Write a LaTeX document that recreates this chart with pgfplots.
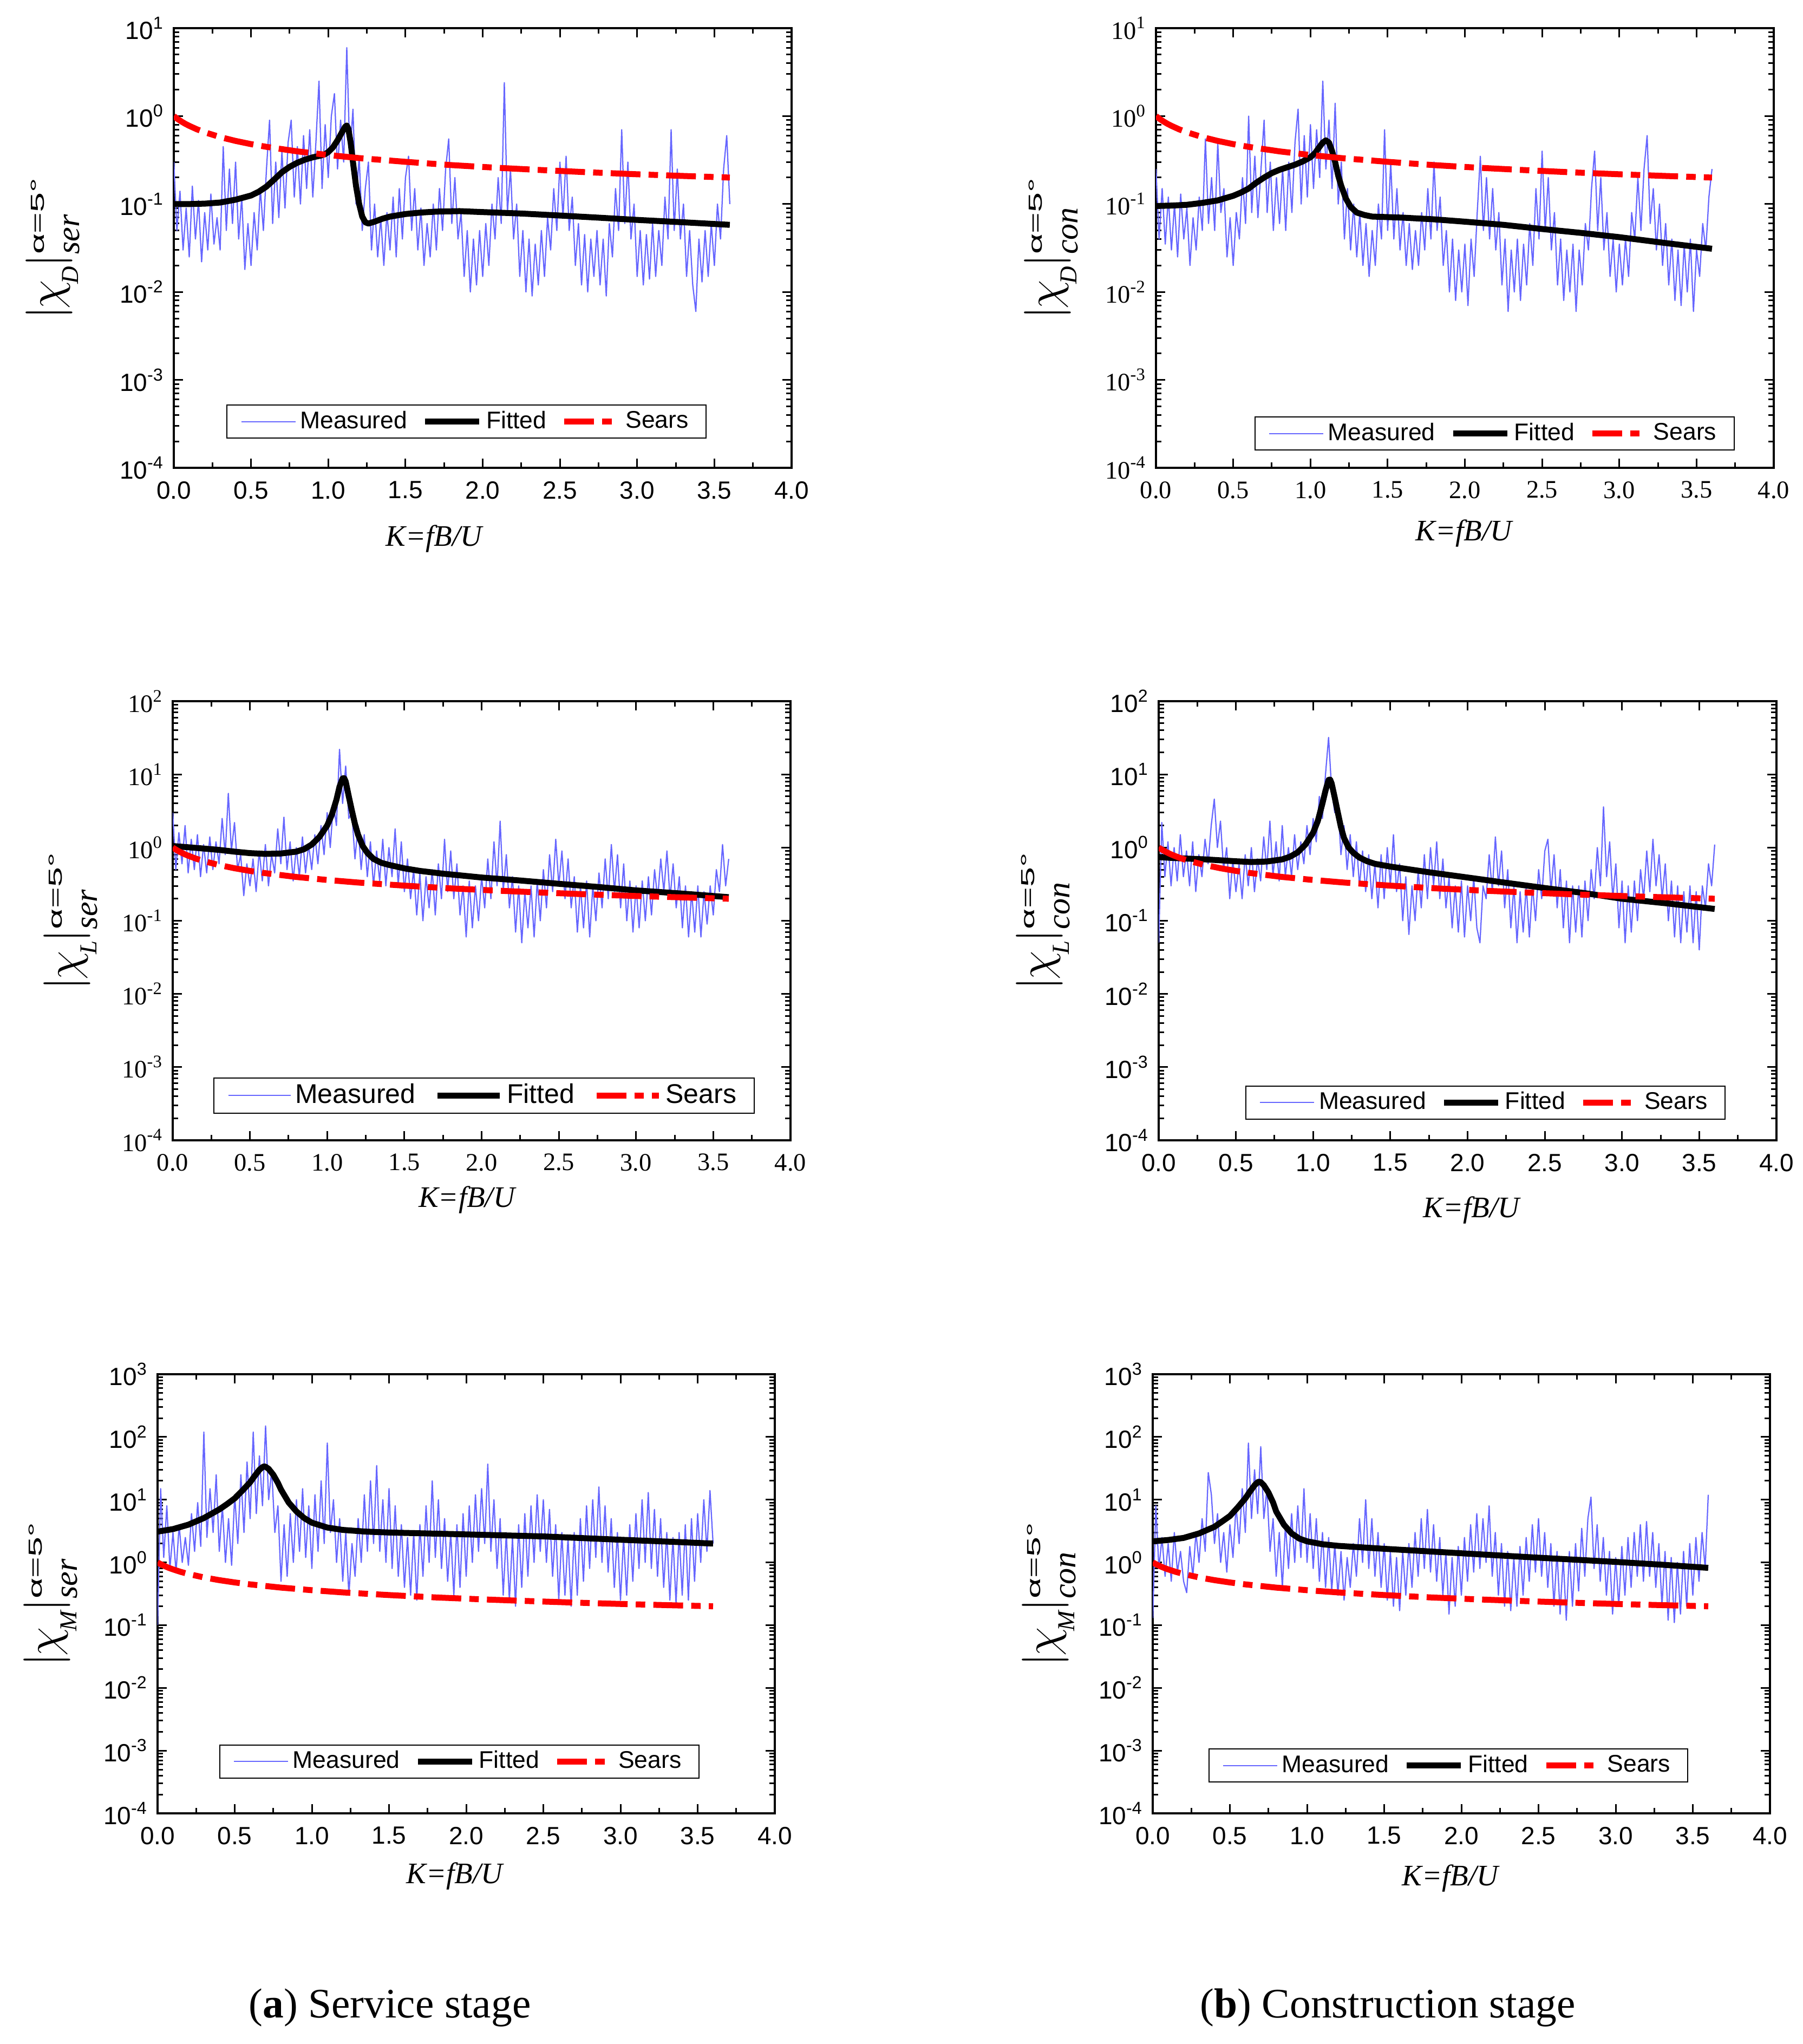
\documentclass[border=0pt]{standalone}
\usepackage{fontspec}
\usepackage{amsmath}
\usepackage{graphicx}
\usepackage{pgfplots}
\usepackage{pgfplotstable}
\pgfplotsset{compat=1.18}
\setmainfont{Liberation Sans}
\newfontfamily\timesf{Liberation Serif}
\newfontfamily\arialf{Liberation Sans}
\definecolor{meas}{RGB}{102,102,255}

\tikzset{
  measst/.style={color=meas, line width=0.45pt, line join=round},
  fitst/.style={black, line width=2.2pt, line join=round},
  searsst/.style={red, line width=2.2pt, dash pattern=on 11pt off 3pt on 3.5pt off 3pt},
}
\pgfplotsset{legend image code/.code={\draw[#1] (0pt,0pt) -- (20pt,0pt);}}

% Sears function (common to all panels)
\pgfplotstableread{
x y
0 1
0.025 0.926
0.05 0.866
0.075 0.816
0.1 0.775
0.15 0.707
0.2 0.655
0.3 0.577
0.4 0.522
0.5 0.480
0.6 0.447
0.8 0.397
1.0 0.361
1.2 0.333
1.5 0.302
1.8 0.277
2.1 0.258
2.4 0.2425
2.7 0.229
3.0 0.218
3.3 0.2085
3.6 0.200
}\sears

% ---------- Drag, service ----------
\pgfplotstableread[row sep=\\]{x y\\
0.00 0.30\\ 0.02 0.05\\ 0.04 0.14\\ 0.06 0.03\\ 0.08 0.09\\ 0.10 0.025\\ 0.12 0.16\\ 0.14 0.04\\ 0.16 0.11\\ 0.18 0.022\\
0.20 0.08\\ 0.22 0.03\\ 0.24 0.13\\ 0.26 0.035\\ 0.28 0.07\\ 0.30 0.03\\ 0.32 0.45\\ 0.34 0.05\\ 0.36 0.25\\ 0.38 0.06\\
0.40 0.3\\ 0.42 0.04\\ 0.44 0.12\\ 0.46 0.018\\ 0.48 0.06\\ 0.50 0.02\\ 0.52 0.08\\ 0.54 0.03\\ 0.56 0.15\\ 0.58 0.05\\
0.60 0.25\\ 0.62 0.9\\ 0.64 0.06\\ 0.66 0.3\\ 0.68 0.07\\ 0.70 0.4\\ 0.72 0.09\\ 0.74 0.5\\ 0.76 0.9\\ 0.78 0.12\\
0.80 0.45\\ 0.82 0.1\\ 0.84 0.6\\ 0.86 0.15\\ 0.88 0.7\\ 0.90 0.12\\ 0.92 0.5\\ 0.94 2.5\\ 0.96 0.15\\ 0.98 0.8\\
1.00 0.2\\ 1.02 1.0\\ 1.04 1.8\\ 1.06 0.25\\ 1.08 0.9\\ 1.10 0.3\\ 1.12 6.0\\ 1.14 0.35\\ 1.16 1.2\\ 1.18 0.1\\
1.20 0.35\\ 1.22 0.05\\ 1.24 0.15\\ 1.26 0.3\\ 1.28 0.03\\ 1.30 0.1\\ 1.32 0.025\\ 1.34 0.07\\ 1.36 0.02\\ 1.38 0.08\\
1.40 0.03\\ 1.42 0.12\\ 1.44 0.025\\ 1.46 0.15\\ 1.48 0.04\\ 1.50 0.2\\ 1.52 0.35\\ 1.54 0.05\\ 1.56 0.15\\ 1.58 0.03\\
1.60 0.09\\ 1.62 0.02\\ 1.64 0.06\\ 1.66 0.025\\ 1.68 0.1\\ 1.70 0.03\\ 1.72 0.15\\ 1.74 0.05\\ 1.76 0.25\\ 1.78 0.55\\
1.80 0.06\\ 1.82 0.2\\ 1.84 0.04\\ 1.86 0.08\\ 1.88 0.015\\ 1.90 0.05\\ 1.92 0.01\\ 1.94 0.04\\ 1.96 0.012\\ 1.98 0.05\\
2.00 0.015\\ 2.02 0.06\\ 2.04 0.02\\ 2.06 0.1\\ 2.08 0.04\\ 2.10 0.2\\ 2.12 0.06\\ 2.14 2.4\\ 2.16 0.08\\ 2.18 0.25\\
2.20 0.04\\ 2.22 0.1\\ 2.24 0.015\\ 2.26 0.05\\ 2.28 0.01\\ 2.30 0.04\\ 2.32 0.009\\ 2.34 0.035\\ 2.36 0.012\\ 2.38 0.05\\
2.40 0.015\\ 2.42 0.07\\ 2.44 0.03\\ 2.46 0.15\\ 2.48 0.05\\ 2.50 0.3\\ 2.52 0.07\\ 2.54 0.35\\ 2.56 0.05\\ 2.58 0.12\\
2.60 0.02\\ 2.62 0.06\\ 2.64 0.012\\ 2.66 0.045\\ 2.68 0.01\\ 2.70 0.04\\ 2.72 0.015\\ 2.74 0.05\\ 2.76 0.012\\ 2.78 0.04\\
2.80 0.009\\ 2.82 0.06\\ 2.84 0.025\\ 2.86 0.15\\ 2.88 0.05\\ 2.90 0.7\\ 2.92 0.06\\ 2.94 0.3\\ 2.96 0.04\\ 2.98 0.1\\
3.00 0.015\\ 3.02 0.05\\ 3.04 0.012\\ 3.06 0.045\\ 3.08 0.014\\ 3.10 0.06\\ 3.12 0.015\\ 3.14 0.05\\ 3.16 0.02\\ 3.18 0.12\\
3.20 0.04\\ 3.22 0.7\\ 3.24 0.05\\ 3.26 0.25\\ 3.28 0.04\\ 3.30 0.1\\ 3.32 0.015\\ 3.34 0.05\\ 3.36 0.012\\ 3.38 0.006\\
3.40 0.04\\ 3.42 0.013\\ 3.44 0.05\\ 3.46 0.015\\ 3.48 0.06\\ 3.50 0.02\\ 3.52 0.1\\ 3.54 0.04\\ 3.56 0.25\\ 3.58 0.6\\
3.60 0.1\\
}\DSm
\pgfplotstableread[row sep=\\]{x y\\
0 0.100\\ 0.1 0.100\\ 0.2 0.101\\ 0.3 0.104\\ 0.4 0.112\\ 0.5 0.125\\ 0.55 0.138\\ 0.6 0.158\\ 0.65 0.19\\ 0.7 0.23\\
0.75 0.265\\ 0.8 0.295\\ 0.85 0.32\\ 0.9 0.34\\ 0.95 0.355\\ 0.98 0.37\\ 1.0 0.39\\ 1.03 0.44\\ 1.06 0.53\\ 1.09 0.66\\
1.11 0.76\\ 1.12 0.78\\ 1.13 0.72\\ 1.145 0.5\\ 1.16 0.3\\ 1.18 0.16\\ 1.2 0.1\\ 1.22 0.072\\ 1.24 0.062\\ 1.26 0.06\\
1.3 0.063\\ 1.35 0.068\\ 1.4 0.072\\ 1.5 0.077\\ 1.6 0.08\\ 1.7 0.082\\ 1.85 0.083\\ 2.0 0.081\\ 2.25 0.078\\ 2.5 0.074\\
2.75 0.07\\ 3.0 0.066\\ 3.3 0.062\\ 3.6 0.058\\
}\DSf

% ---------- Drag, construction ----------
\pgfplotstableread[row sep=\\]{x y\\
0.00 0.25\\ 0.02 0.04\\ 0.04 0.15\\ 0.06 0.035\\ 0.08 0.12\\ 0.10 0.03\\ 0.12 0.1\\ 0.14 0.025\\ 0.16 0.13\\ 0.18 0.04\\
0.20 0.09\\ 0.22 0.02\\ 0.24 0.07\\ 0.26 0.03\\ 0.28 0.12\\ 0.30 0.05\\ 0.32 0.55\\ 0.34 0.06\\ 0.36 0.2\\ 0.38 0.05\\
0.40 0.5\\ 0.42 0.08\\ 0.44 0.15\\ 0.46 0.025\\ 0.48 0.07\\ 0.50 0.02\\ 0.52 0.08\\ 0.54 0.04\\ 0.56 0.2\\ 0.58 0.06\\
0.60 1.0\\ 0.62 0.08\\ 0.64 0.35\\ 0.66 0.07\\ 0.68 0.25\\ 0.70 0.9\\ 0.72 0.08\\ 0.74 0.3\\ 0.76 0.05\\ 0.78 0.2\\
0.80 0.06\\ 0.82 0.25\\ 0.84 0.05\\ 0.86 0.3\\ 0.88 0.08\\ 0.90 0.5\\ 0.92 1.2\\ 0.94 0.1\\ 0.96 0.6\\ 0.98 0.12\\
1.00 0.8\\ 1.02 0.15\\ 1.04 0.7\\ 1.06 0.2\\ 1.08 2.5\\ 1.10 0.25\\ 1.12 0.9\\ 1.14 0.15\\ 1.16 1.4\\ 1.18 0.1\\
1.20 0.3\\ 1.22 0.04\\ 1.24 0.15\\ 1.26 0.03\\ 1.28 0.1\\ 1.30 0.025\\ 1.32 0.08\\ 1.34 0.02\\ 1.36 0.06\\ 1.38 0.015\\
1.40 0.05\\ 1.42 0.02\\ 1.44 0.1\\ 1.46 0.04\\ 1.48 0.7\\ 1.50 0.05\\ 1.52 0.3\\ 1.54 0.04\\ 1.56 0.15\\ 1.58 0.03\\
1.60 0.08\\ 1.62 0.02\\ 1.64 0.06\\ 1.66 0.018\\ 1.68 0.05\\ 1.70 0.02\\ 1.72 0.08\\ 1.74 0.03\\ 1.76 0.15\\ 1.78 0.04\\
1.80 0.3\\ 1.82 0.05\\ 1.84 0.12\\ 1.86 0.02\\ 1.88 0.05\\ 1.90 0.01\\ 1.92 0.04\\ 1.94 0.008\\ 1.96 0.03\\ 1.98 0.01\\
2.00 0.035\\ 2.02 0.007\\ 2.04 0.04\\ 2.06 0.015\\ 2.08 0.08\\ 2.10 0.35\\ 2.12 0.05\\ 2.14 0.2\\ 2.16 0.04\\ 2.18 0.15\\
2.20 0.03\\ 2.22 0.08\\ 2.24 0.012\\ 2.26 0.04\\ 2.28 0.006\\ 2.30 0.03\\ 2.32 0.01\\ 2.34 0.04\\ 2.36 0.008\\ 2.38 0.035\\
2.40 0.012\\ 2.42 0.06\\ 2.44 0.02\\ 2.46 0.15\\ 2.48 0.04\\ 2.50 0.4\\ 2.52 0.05\\ 2.54 0.2\\ 2.56 0.03\\ 2.58 0.08\\
2.60 0.012\\ 2.62 0.04\\ 2.64 0.008\\ 2.66 0.03\\ 2.68 0.01\\ 2.70 0.035\\ 2.72 0.006\\ 2.74 0.03\\ 2.76 0.012\\ 2.78 0.06\\
2.80 0.03\\ 2.82 0.15\\ 2.84 0.4\\ 2.86 0.05\\ 2.88 0.2\\ 2.90 0.03\\ 2.92 0.08\\ 2.94 0.015\\ 2.96 0.04\\ 2.98 0.01\\
3.00 0.035\\ 3.02 0.012\\ 3.04 0.04\\ 3.06 0.015\\ 3.08 0.08\\ 3.10 0.04\\ 3.12 0.2\\ 3.14 0.05\\ 3.16 0.25\\ 3.18 0.6\\
3.20 0.06\\ 3.22 0.15\\ 3.24 0.03\\ 3.26 0.1\\ 3.28 0.02\\ 3.30 0.06\\ 3.32 0.012\\ 3.34 0.04\\ 3.36 0.008\\ 3.38 0.03\\
3.40 0.007\\ 3.42 0.035\\ 3.44 0.01\\ 3.46 0.04\\ 3.48 0.006\\ 3.50 0.03\\ 3.52 0.015\\ 3.54 0.06\\ 3.56 0.03\\ 3.58 0.12\\
3.60 0.25\\
}\DCm
\pgfplotstableread[row sep=\\]{x y\\
0 0.095\\ 0.1 0.096\\ 0.2 0.098\\ 0.3 0.103\\ 0.4 0.11\\ 0.5 0.124\\ 0.55 0.135\\ 0.6 0.15\\ 0.65 0.175\\ 0.7 0.2\\
0.75 0.225\\ 0.8 0.245\\ 0.85 0.262\\ 0.9 0.28\\ 0.95 0.305\\ 1.0 0.34\\ 1.03 0.38\\ 1.06 0.45\\ 1.08 0.5\\ 1.1 0.53\\
1.12 0.5\\ 1.14 0.4\\ 1.16 0.3\\ 1.18 0.21\\ 1.2 0.16\\ 1.23 0.115\\ 1.26 0.093\\ 1.3 0.08\\ 1.35 0.075\\ 1.4 0.072\\
1.5 0.071\\ 1.6 0.07\\ 1.8 0.067\\ 2.0 0.063\\ 2.25 0.058\\ 2.5 0.052\\ 2.75 0.047\\ 3.0 0.042\\ 3.3 0.036\\ 3.6 0.031\\
}\DCf

% ---------- Lift, service ----------
\pgfplotstableread[row sep=\\]{x y\\
0.00 3.0\\ 0.02 0.5\\ 0.04 1.6\\ 0.06 0.6\\ 0.08 2.0\\ 0.10 0.45\\ 0.12 1.3\\ 0.14 0.5\\ 0.16 1.5\\ 0.18 0.4\\
0.20 1.1\\ 0.22 0.45\\ 0.24 1.4\\ 0.26 0.5\\ 0.28 1.2\\ 0.30 0.6\\ 0.32 2.5\\ 0.34 0.8\\ 0.36 5.5\\ 0.38 0.9\\
0.40 2.2\\ 0.42 0.5\\ 0.44 0.8\\ 0.46 0.22\\ 0.48 0.6\\ 0.50 0.3\\ 0.52 0.7\\ 0.54 0.25\\ 0.56 0.9\\ 0.58 0.35\\
0.60 1.1\\ 0.62 0.3\\ 0.64 0.8\\ 0.66 0.45\\ 0.68 1.8\\ 0.70 0.6\\ 0.72 2.6\\ 0.74 0.5\\ 0.76 1.2\\ 0.78 0.35\\
0.80 1.0\\ 0.82 0.4\\ 0.84 1.4\\ 0.86 0.45\\ 0.88 1.1\\ 0.90 0.5\\ 0.92 1.5\\ 0.94 0.6\\ 0.96 2.0\\ 0.98 0.8\\
1.00 3.0\\ 1.02 1.0\\ 1.04 4.0\\ 1.06 2.0\\ 1.08 22\\ 1.10 4.0\\ 1.12 13\\ 1.14 2.5\\ 1.16 3.0\\ 1.18 0.7\\
1.20 2.0\\ 1.22 0.5\\ 1.24 1.5\\ 1.26 0.4\\ 1.28 1.2\\ 1.30 0.3\\ 1.32 0.9\\ 1.34 0.35\\ 1.36 1.3\\ 1.38 0.3\\
1.40 1.0\\ 1.42 0.4\\ 1.44 1.8\\ 1.46 0.3\\ 1.48 1.2\\ 1.50 0.25\\ 1.52 0.7\\ 1.54 0.2\\ 1.56 0.5\\ 1.58 0.12\\
1.60 0.45\\ 1.62 0.1\\ 1.64 0.4\\ 1.66 0.15\\ 1.68 0.5\\ 1.70 0.12\\ 1.72 0.6\\ 1.74 0.2\\ 1.76 1.3\\ 1.78 0.25\\
1.80 0.9\\ 1.82 0.2\\ 1.84 0.6\\ 1.86 0.12\\ 1.88 0.3\\ 1.90 0.06\\ 1.92 0.35\\ 1.94 0.08\\ 1.96 0.3\\ 1.98 0.1\\
2.00 0.4\\ 2.02 0.15\\ 2.04 0.7\\ 2.06 0.2\\ 2.08 1.2\\ 2.10 0.3\\ 2.12 2.3\\ 2.14 0.25\\ 2.16 0.8\\ 2.18 0.15\\
2.20 0.4\\ 2.22 0.07\\ 2.24 0.3\\ 2.26 0.05\\ 2.28 0.25\\ 2.30 0.08\\ 2.32 0.3\\ 2.34 0.06\\ 2.36 0.35\\ 2.38 0.1\\
2.40 0.5\\ 2.42 0.15\\ 2.44 0.8\\ 2.46 0.25\\ 2.48 1.3\\ 2.50 0.3\\ 2.52 0.9\\ 2.54 0.2\\ 2.56 0.7\\ 2.58 0.15\\
2.60 0.4\\ 2.62 0.07\\ 2.64 0.3\\ 2.66 0.08\\ 2.68 0.35\\ 2.70 0.06\\ 2.72 0.3\\ 2.74 0.1\\ 2.76 0.45\\ 2.78 0.15\\
2.80 0.7\\ 2.82 0.2\\ 2.84 1.1\\ 2.86 0.25\\ 2.88 0.8\\ 2.90 0.15\\ 2.92 0.6\\ 2.94 0.1\\ 2.96 0.35\\ 2.98 0.07\\
3.00 0.3\\ 3.02 0.08\\ 3.04 0.35\\ 3.06 0.1\\ 3.08 0.4\\ 3.10 0.12\\ 3.12 0.5\\ 3.14 0.2\\ 3.16 0.7\\ 3.18 0.25\\
3.20 0.9\\ 3.22 0.2\\ 3.24 0.6\\ 3.26 0.15\\ 3.28 0.4\\ 3.30 0.08\\ 3.32 0.3\\ 3.34 0.06\\ 3.36 0.25\\ 3.38 0.07\\
3.40 0.3\\ 3.42 0.06\\ 3.44 0.25\\ 3.46 0.09\\ 3.48 0.3\\ 3.50 0.12\\ 3.52 0.5\\ 3.54 0.25\\ 3.56 1.1\\ 3.58 0.3\\
3.60 0.7\\
}\LSm
\pgfplotstableread[row sep=\\]{x y\\
0 1.05\\ 0.1 1.01\\ 0.2 0.97\\ 0.3 0.93\\ 0.4 0.88\\ 0.5 0.84\\ 0.6 0.82\\ 0.7 0.83\\ 0.8 0.88\\ 0.85 0.95\\
0.9 1.1\\ 0.95 1.4\\ 1.0 2.0\\ 1.03 2.8\\ 1.06 4.5\\ 1.08 6.8\\ 1.1 8.8\\ 1.11 8.9\\ 1.12 8.0\\ 1.14 5.0\\
1.16 3.2\\ 1.18 2.1\\ 1.2 1.5\\ 1.23 1.05\\ 1.26 0.85\\ 1.3 0.7\\ 1.35 0.62\\ 1.4 0.58\\ 1.5 0.52\\ 1.6 0.48\\
1.75 0.44\\ 2.0 0.39\\ 2.25 0.355\\ 2.5 0.32\\ 2.75 0.29\\ 3.0 0.26\\ 3.3 0.235\\ 3.6 0.21\\
}\LSf

% ---------- Lift, construction ----------
\pgfplotstableread[row sep=\\]{x y\\
0.00 0.05\\ 0.02 2.2\\ 0.04 0.4\\ 0.06 1.2\\ 0.08 0.3\\ 0.10 1.0\\ 0.12 0.35\\ 0.14 1.5\\ 0.16 0.4\\ 0.18 0.9\\
0.20 0.3\\ 0.22 1.2\\ 0.24 0.25\\ 0.26 0.8\\ 0.28 0.4\\ 0.30 1.3\\ 0.32 0.6\\ 0.34 2.0\\ 0.36 4.6\\ 0.38 1.0\\
0.40 2.3\\ 0.42 0.5\\ 0.44 1.0\\ 0.46 0.2\\ 0.48 0.7\\ 0.50 0.25\\ 0.52 0.6\\ 0.54 0.2\\ 0.56 0.8\\ 0.58 0.3\\
0.60 1.0\\ 0.62 0.25\\ 0.64 0.7\\ 0.66 0.35\\ 0.68 1.4\\ 0.70 0.5\\ 0.72 2.3\\ 0.74 0.4\\ 0.76 1.2\\ 0.78 0.35\\
0.80 2.0\\ 0.82 0.4\\ 0.84 1.0\\ 0.86 0.4\\ 0.88 1.5\\ 0.90 0.5\\ 0.92 1.2\\ 0.94 0.6\\ 0.96 2.0\\ 0.98 0.8\\
1.00 2.5\\ 1.02 1.2\\ 1.04 5.0\\ 1.06 2.5\\ 1.08 10\\ 1.10 32\\ 1.12 6.0\\ 1.14 3.0\\ 1.16 4.0\\ 1.18 0.8\\
1.20 2.0\\ 1.22 0.5\\ 1.24 1.5\\ 1.26 0.4\\ 1.28 1.2\\ 1.30 0.3\\ 1.32 0.9\\ 1.34 0.25\\ 1.36 0.8\\ 1.38 0.2\\
1.40 0.6\\ 1.42 0.15\\ 1.44 0.8\\ 1.46 0.2\\ 1.48 1.0\\ 1.50 0.3\\ 1.52 1.5\\ 1.54 0.25\\ 1.56 0.6\\ 1.58 0.1\\
1.60 0.4\\ 1.62 0.065\\ 1.64 0.3\\ 1.66 0.1\\ 1.68 0.5\\ 1.70 0.15\\ 1.72 0.8\\ 1.74 0.2\\ 1.76 1.0\\ 1.78 0.3\\
1.80 1.2\\ 1.82 0.2\\ 1.84 0.7\\ 1.86 0.15\\ 1.88 0.4\\ 1.90 0.08\\ 1.92 0.3\\ 1.94 0.07\\ 1.96 0.35\\ 1.98 0.06\\
2.00 0.3\\ 2.02 0.1\\ 2.04 0.4\\ 2.06 0.08\\ 2.08 0.05\\ 2.10 0.3\\ 2.12 0.2\\ 2.14 0.8\\ 2.16 0.25\\ 2.18 1.4\\
2.20 0.3\\ 2.22 0.9\\ 2.24 0.15\\ 2.26 0.5\\ 2.28 0.08\\ 2.30 0.3\\ 2.32 0.05\\ 2.34 0.25\\ 2.36 0.07\\ 2.38 0.3\\
2.40 0.06\\ 2.42 0.3\\ 2.44 0.1\\ 2.46 0.5\\ 2.48 0.2\\ 2.50 0.9\\ 2.52 1.3\\ 2.54 0.25\\ 2.56 0.8\\ 2.58 0.15\\
2.60 0.5\\ 2.62 0.08\\ 2.64 0.35\\ 2.66 0.05\\ 2.68 0.3\\ 2.70 0.07\\ 2.72 0.3\\ 2.74 0.06\\ 2.76 0.35\\ 2.78 0.1\\
2.80 0.5\\ 2.82 0.2\\ 2.84 1.0\\ 2.86 0.3\\ 2.88 3.6\\ 2.90 0.4\\ 2.92 1.2\\ 2.94 0.2\\ 2.96 0.6\\ 2.98 0.08\\
3.00 0.35\\ 3.02 0.05\\ 3.04 0.3\\ 3.06 0.07\\ 3.08 0.35\\ 3.10 0.1\\ 3.12 0.5\\ 3.14 0.2\\ 3.16 0.9\\ 3.18 0.25\\
3.20 1.3\\ 3.22 0.3\\ 3.24 0.8\\ 3.26 0.2\\ 3.28 0.6\\ 3.30 0.1\\ 3.32 0.35\\ 3.34 0.06\\ 3.36 0.3\\ 3.38 0.05\\
3.40 0.25\\ 3.42 0.07\\ 3.44 0.3\\ 3.46 0.05\\ 3.48 0.25\\ 3.50 0.04\\ 3.52 0.3\\ 3.54 0.15\\ 3.56 0.6\\ 3.58 0.3\\
3.60 1.1\\
}\LCm
\pgfplotstableread[row sep=\\]{x y\\
0 0.74\\ 0.1 0.72\\ 0.2 0.705\\ 0.3 0.69\\ 0.4 0.67\\ 0.5 0.65\\ 0.6 0.635\\ 0.7 0.645\\ 0.8 0.69\\ 0.85 0.75\\
0.9 0.86\\ 0.95 1.1\\ 1.0 1.6\\ 1.03 2.3\\ 1.06 4.0\\ 1.08 6.0\\ 1.1 8.4\\ 1.11 8.5\\ 1.12 7.5\\ 1.14 4.8\\
1.16 3.0\\ 1.18 1.9\\ 1.2 1.35\\ 1.23 1.0\\ 1.26 0.85\\ 1.3 0.73\\ 1.35 0.65\\ 1.4 0.6\\ 1.5 0.55\\ 1.75 0.46\\
2.0 0.39\\ 2.25 0.33\\ 2.5 0.28\\ 2.75 0.24\\ 3.0 0.2\\ 3.3 0.172\\ 3.6 0.145\\
}\LCf

% ---------- Moment, service ----------
\pgfplotstableread[row sep=\\]{x y\\
0.00 0.1\\ 0.02 15\\ 0.04 1.2\\ 0.06 8\\ 0.08 0.8\\ 0.10 3.0\\ 0.12 0.7\\ 0.14 4.0\\ 0.16 1.0\\ 0.18 2.5\\
0.20 0.9\\ 0.22 6.0\\ 0.24 1.5\\ 0.26 9.0\\ 0.28 1.8\\ 0.30 120\\ 0.32 2.5\\ 0.34 15\\ 0.36 3.0\\ 0.38 25\\
0.40 1.5\\ 0.42 8.0\\ 0.44 1.0\\ 0.46 5.0\\ 0.48 0.9\\ 0.50 12\\ 0.52 2.0\\ 0.54 25\\ 0.56 3.0\\ 0.58 40\\
0.60 5.0\\ 0.62 120\\ 0.64 6.0\\ 0.66 50\\ 0.68 8.0\\ 0.70 150\\ 0.72 10\\ 0.74 30\\ 0.76 3.0\\ 0.78 8.0\\
0.80 0.5\\ 0.82 4.0\\ 0.84 0.6\\ 0.86 6.0\\ 0.88 1.0\\ 0.90 10\\ 0.92 1.5\\ 0.94 15\\ 0.96 1.2\\ 0.98 8.0\\
1.00 0.8\\ 1.02 12\\ 1.04 1.5\\ 1.06 20\\ 1.08 2.0\\ 1.10 80\\ 1.12 3.0\\ 1.14 10\\ 1.16 1.0\\ 1.18 5.0\\
1.20 0.5\\ 1.22 3.0\\ 1.24 0.3\\ 1.26 2.0\\ 1.28 0.6\\ 1.30 5.0\\ 1.32 1.0\\ 1.34 12\\ 1.36 1.5\\ 1.38 20\\
1.40 2.0\\ 1.42 35\\ 1.44 1.5\\ 1.46 10\\ 1.48 1.0\\ 1.50 15\\ 1.52 0.8\\ 1.54 8.0\\ 1.56 0.6\\ 1.58 4.0\\
1.60 0.4\\ 1.62 2.5\\ 1.64 0.3\\ 1.66 3.0\\ 1.68 0.25\\ 1.70 4.0\\ 1.72 0.6\\ 1.74 8.0\\ 1.76 1.0\\ 1.78 20\\
1.80 1.2\\ 1.82 10\\ 1.84 0.8\\ 1.86 5.0\\ 1.88 0.5\\ 1.90 3.0\\ 1.92 0.3\\ 1.94 4.0\\ 1.96 0.4\\ 1.98 6.0\\
2.00 0.6\\ 2.02 8.0\\ 2.04 1.0\\ 2.06 12\\ 2.08 1.5\\ 2.10 15\\ 2.12 2.0\\ 2.14 37\\ 2.16 1.5\\ 2.18 10\\
2.20 0.8\\ 2.22 5.0\\ 2.24 0.3\\ 2.26 3.0\\ 2.28 0.25\\ 2.30 2.5\\ 2.32 0.2\\ 2.34 4.0\\ 2.36 0.4\\ 2.38 6.0\\
2.40 0.6\\ 2.42 8.0\\ 2.44 1.0\\ 2.46 12\\ 2.48 1.5\\ 2.50 10\\ 2.52 1.0\\ 2.54 7.0\\ 2.56 0.6\\ 2.58 4.0\\
2.60 0.25\\ 2.62 3.0\\ 2.64 0.3\\ 2.66 2.5\\ 2.68 0.2\\ 2.70 3.0\\ 2.72 0.3\\ 2.74 5.0\\ 2.76 0.5\\ 2.78 8.0\\
2.80 0.8\\ 2.82 10\\ 2.84 1.2\\ 2.86 16\\ 2.88 1.0\\ 2.90 8.0\\ 2.92 0.7\\ 2.94 5.0\\ 2.96 0.4\\ 2.98 3.0\\
3.00 0.25\\ 3.02 2.5\\ 3.04 0.3\\ 3.06 4.0\\ 3.08 0.5\\ 3.10 6.0\\ 3.12 0.8\\ 3.14 10\\ 3.16 1.0\\ 3.18 13\\
3.20 0.8\\ 3.22 7.0\\ 3.24 0.6\\ 3.26 5.0\\ 3.28 0.4\\ 3.30 3.0\\ 3.32 0.25\\ 3.34 2.5\\ 3.36 0.22\\ 3.38 3.0\\
3.40 0.3\\ 3.42 4.0\\ 3.44 0.25\\ 3.46 5.0\\ 3.48 0.5\\ 3.50 6.0\\ 3.52 1.0\\ 3.54 10\\ 3.56 1.5\\ 3.58 14\\
3.60 2.0\\
}\MSm
\pgfplotstableread[row sep=\\]{x y\\
0 3.1\\ 0.1 3.4\\ 0.2 4.0\\ 0.3 5.1\\ 0.4 7.0\\ 0.45 8.5\\ 0.5 10.5\\ 0.55 14\\ 0.6 19\\ 0.63 24\\
0.66 30\\ 0.68 33\\ 0.69 34\\ 0.70 33.5\\ 0.72 31\\ 0.75 25\\ 0.78 18.5\\ 0.8 14.5\\ 0.85 9.0\\ 0.9 6.5\\
0.95 5.1\\ 1.0 4.3\\ 1.1 3.6\\ 1.2 3.3\\ 1.35 3.1\\ 1.5 3.0\\ 2.0 2.8\\ 2.5 2.6\\ 3.0 2.3\\ 3.3 2.15\\ 3.6 2.0\\
}\MSf

% ---------- Moment, construction ----------
\pgfplotstableread[row sep=\\]{x y\\
0.00 0.13\\ 0.02 8.0\\ 0.04 0.8\\ 0.06 2.5\\ 0.08 0.6\\ 0.10 2.0\\ 0.12 0.5\\ 0.14 3.0\\ 0.16 0.7\\ 0.18 1.5\\
0.20 0.5\\ 0.22 0.33\\ 0.24 1.8\\ 0.26 0.6\\ 0.28 3.0\\ 0.30 1.0\\ 0.32 5.0\\ 0.34 1.5\\ 0.36 27\\ 0.38 12\\
0.40 2.0\\ 0.42 6.0\\ 0.44 1.0\\ 0.46 3.0\\ 0.48 0.7\\ 0.50 4.0\\ 0.52 1.2\\ 0.54 8.0\\ 0.56 2.0\\ 0.58 15\\
0.60 3.0\\ 0.62 80\\ 0.64 5.0\\ 0.66 30\\ 0.68 6.0\\ 0.70 70\\ 0.72 5.0\\ 0.74 15\\ 0.76 1.5\\ 0.78 5.0\\
0.80 0.6\\ 0.82 3.0\\ 0.84 0.4\\ 0.86 4.0\\ 0.88 0.8\\ 0.90 6.0\\ 0.92 1.0\\ 0.94 8.0\\ 0.96 1.2\\ 0.98 15\\
1.00 1.0\\ 1.02 6.0\\ 1.04 0.8\\ 1.06 5.0\\ 1.08 0.5\\ 1.10 3.0\\ 1.12 0.4\\ 1.14 2.5\\ 1.16 0.35\\ 1.18 2.0\\
1.20 0.3\\ 1.22 1.5\\ 1.24 0.25\\ 1.26 1.2\\ 1.28 0.4\\ 1.30 2.0\\ 1.32 0.6\\ 1.34 5.0\\ 1.36 1.0\\ 1.38 10\\
1.40 0.8\\ 1.42 5.0\\ 1.44 0.6\\ 1.46 3.0\\ 1.48 0.4\\ 1.50 2.0\\ 1.52 0.25\\ 1.54 1.5\\ 1.56 0.2\\ 1.58 1.2\\
1.60 0.17\\ 1.62 1.5\\ 1.64 0.3\\ 1.66 2.0\\ 1.68 0.4\\ 1.70 3.0\\ 1.72 0.6\\ 1.74 5.0\\ 1.76 0.8\\ 1.78 7.0\\
1.80 0.7\\ 1.82 4.0\\ 1.84 0.5\\ 1.86 2.5\\ 1.88 0.3\\ 1.90 1.5\\ 1.92 0.15\\ 1.94 1.2\\ 1.96 0.2\\ 1.98 1.8\\
2.00 0.3\\ 2.02 2.5\\ 2.04 0.5\\ 2.06 4.0\\ 2.08 0.7\\ 2.10 6.0\\ 2.12 0.8\\ 2.14 5.0\\ 2.16 1.0\\ 2.18 8.0\\
2.20 0.6\\ 2.22 3.0\\ 2.24 0.3\\ 2.26 2.0\\ 2.28 0.2\\ 2.30 1.5\\ 2.32 0.17\\ 2.34 1.2\\ 2.36 0.2\\ 2.38 1.8\\
2.40 0.3\\ 2.42 2.5\\ 2.44 0.5\\ 2.46 4.0\\ 2.48 0.7\\ 2.50 5.0\\ 2.52 0.6\\ 2.54 3.0\\ 2.56 0.4\\ 2.58 2.0\\
2.60 0.2\\ 2.62 1.5\\ 2.64 0.15\\ 2.66 1.2\\ 2.68 0.12\\ 2.70 1.5\\ 2.72 0.2\\ 2.74 2.0\\ 2.76 0.35\\ 2.78 3.5\\
2.80 0.6\\ 2.82 5.0\\ 2.84 11\\ 2.86 0.8\\ 2.88 4.0\\ 2.90 0.5\\ 2.92 2.5\\ 2.94 0.3\\ 2.96 1.5\\ 2.98 0.15\\
3.00 1.2\\ 3.02 0.2\\ 3.04 1.8\\ 3.06 0.3\\ 3.08 2.5\\ 3.10 0.4\\ 3.12 3.0\\ 3.14 0.6\\ 3.16 4.0\\ 3.18 0.5\\
3.20 4.5\\ 3.22 0.6\\ 3.24 3.0\\ 3.26 0.4\\ 3.28 2.0\\ 3.30 0.2\\ 3.32 1.5\\ 3.34 0.12\\ 3.36 1.2\\ 3.38 0.11\\
3.40 1.0\\ 3.42 0.15\\ 3.44 1.5\\ 3.46 0.2\\ 3.48 2.0\\ 3.50 0.3\\ 3.52 2.5\\ 3.54 0.5\\ 3.56 3.0\\ 3.58 0.8\\
3.60 12\\
}\MCm
\pgfplotstableread[row sep=\\]{x y\\
0 2.17\\ 0.1 2.28\\ 0.2 2.46\\ 0.3 2.9\\ 0.4 3.7\\ 0.45 4.5\\ 0.5 5.5\\ 0.55 7.5\\ 0.6 10.5\\ 0.63 13.5\\
0.66 17\\ 0.68 19\\ 0.69 19.4\\ 0.70 19\\ 0.72 17\\ 0.75 13\\ 0.78 9\\ 0.8 6.5\\ 0.85 4.0\\ 0.9 2.9\\
0.95 2.4\\ 1.0 2.17\\ 1.1 1.95\\ 1.2 1.84\\ 1.5 1.65\\ 2.0 1.4\\ 2.5 1.19\\ 3.0 1.02\\ 3.3 0.92\\ 3.6 0.82\\
}\MCf

\pgfplotsset{
  panelstyle/.style={
    scale only axis, width=228.2pt, height=162.4pt,
    xmin=0, xmax=4,
    xtick={0,0.5,1,1.5,2,2.5,3,3.5,4},
    xticklabels={0.0,0.5,1.0,1.5,2.0,2.5,3.0,3.5,4.0},
    minor x tick num=1,
    tick align=inside,
    major tick length=3.4pt, minor tick length=2pt,
    every tick/.append style={black, line width=0.6pt},
    axis line style={line width=0.8pt},
    tick label style={font=\fontsize{9.2}{11}\selectfont},
    xticklabel style={yshift=-1.5pt},
    xlabel={\timesf\itshape K=fB/U},
    xlabel style={font=\fontsize{11}{13}\selectfont, anchor=center},
    ylabel style={font=\fontsize{17}{20}\selectfont, anchor=center},
    legend columns=3,
    legend style={draw=black, line width=0.4pt, anchor=center,
      font=\fontsize{8.9}{10}\selectfont, inner xsep=5pt, inner ysep=0.6pt,
      nodes={inner sep=1.5pt},
      /tikz/every even column/.append style={column sep=4pt}},
  },
  serifticks/.style={tick label style={font=\timesf\fontsize{9.3}{11}\selectfont}},
}

\newcommand{\ylab}[2]{$|\mkern-1mu\hbox{\fontsize{16.5}{20}\selectfont$\chi$}_{\mkern-2mu\hbox{\raisebox{-2.5pt}{\timesf\itshape\fontsize{9}{11}\selectfont #1}}}\mkern-1mu|^{\hbox{\scalebox{1.9}[1]{\arialf\fontsize{7}{8}\selectfont α=5°}}}_{\hbox{\raisebox{-2.5pt}{\timesf\itshape\fontsize{12}{14}\selectfont #2}}}$}

\begin{document}
\begin{tikzpicture}
\path[use as bounding box] (0,0) rectangle (666pt,-755pt);

% (a) drag
\begin{axis}[panelstyle, ymode=log, log identify minor tick positions=true,
  ymin=1e-4, ymax=10, ytick={1e-4,1e-3,1e-2,1e-1,1,10},
  yticklabels={10\textsuperscript{-4},10\textsuperscript{-3},10\textsuperscript{-2},10\textsuperscript{-1},10\textsuperscript{0},10\textsuperscript{1}},
  at={(64.2pt,-172.8pt)}, anchor=south west,
  ylabel={\ylab{D}{ser}},
  ylabel style={at={(axis description cs:-0.196,0.5)}},
  xlabel style={at={(axis description cs:0.421,-0.161)}},
  legend style={at={(0.474,0.105)}}]
\addplot[measst] table {\DSm};
\addplot[fitst] table {\DSf};
\addplot[searsst] table {\sears};
\legend{Measured,Fitted,Sears}
\end{axis}

% (b) drag
\begin{axis}[panelstyle, serifticks, ymode=log, log identify minor tick positions=true,
  ymin=1e-4, ymax=10, ytick={1e-4,1e-3,1e-2,1e-1,1,10},
  yticklabels={10\textsuperscript{-4},10\textsuperscript{-3},10\textsuperscript{-2},10\textsuperscript{-1},10\textsuperscript{0},10\textsuperscript{1}},
  at={(427pt,-172.8pt)}, anchor=south west,
  ylabel={\ylab{D}{con}},
  ylabel style={at={(axis description cs:-0.170,0.5)}},
  xlabel style={at={(axis description cs:0.498,-0.149)}},
  legend style={at={(0.548,0.078)}}]
\addplot[measst] table {\DCm};
\addplot[fitst] table {\DCf};
\addplot[searsst] table {\sears};
\legend{Measured,Fitted,Sears}
\end{axis}

% (a) lift
\begin{axis}[panelstyle, serifticks, ymode=log, log identify minor tick positions=true,
  ymin=1e-4, ymax=100, ytick={1e-4,1e-3,1e-2,1e-1,1,10,100},
  yticklabels={10\textsuperscript{-4},10\textsuperscript{-3},10\textsuperscript{-2},10\textsuperscript{-1},10\textsuperscript{0},10\textsuperscript{1},10\textsuperscript{2}},
  at={(63.8pt,-421.2pt)}, anchor=south west, height=162.2pt,
  ylabel={\ylab{L}{ser}},
  ylabel style={at={(axis description cs:-0.165,0.5)}},
  xlabel style={at={(axis description cs:0.476,-0.136)}},
  legend image code/.code={\draw[#1] (0pt,0pt) -- (23pt,0pt);},
  legend style={at={(0.504,0.102)}, font=\fontsize{10}{12}\selectfont,
    /tikz/every even column/.append style={column sep=5.5pt}}]
\addplot[measst] table {\LSm};
\addplot[fitst] table {\LSf};
\addplot[searsst] table {\sears};
\legend{Measured,Fitted,Sears}
\end{axis}

% (b) lift
\begin{axis}[panelstyle, ymode=log, log identify minor tick positions=true,
  ymin=1e-4, ymax=100, ytick={1e-4,1e-3,1e-2,1e-1,1,10,100},
  yticklabels={10\textsuperscript{-4},10\textsuperscript{-3},10\textsuperscript{-2},10\textsuperscript{-1},10\textsuperscript{0},10\textsuperscript{1},10\textsuperscript{2}},
  at={(428pt,-421.2pt)}, anchor=south west, height=162.2pt,
  ylabel={\ylab{L}{con}},
  ylabel style={at={(axis description cs:-0.187,0.5)}},
  xlabel style={at={(axis description cs:0.506,-0.159)}},
  legend style={at={(0.529,0.086)}}]
\addplot[measst] table {\LCm};
\addplot[fitst] table {\LCf};
\addplot[searsst] table {\sears};
\legend{Measured,Fitted,Sears}
\end{axis}

% (a) moment
\begin{axis}[panelstyle, ymode=log, log identify minor tick positions=true,
  ymin=1e-4, ymax=1000, ytick={1e-4,1e-3,1e-2,1e-1,1,10,100,1000},
  yticklabels={10\textsuperscript{-4},10\textsuperscript{-3},10\textsuperscript{-2},10\textsuperscript{-1},10\textsuperscript{0},10\textsuperscript{1},10\textsuperscript{2},10\textsuperscript{3}},
  at={(58.2pt,-669.8pt)}, anchor=south west, width=228pt, height=162.2pt,
  ylabel={\ylab{M}{ser}},
  ylabel style={at={(axis description cs:-0.173,0.5)}},
  xlabel style={at={(axis description cs:0.481,-0.143)}},
  legend style={at={(0.489,0.118)}}]
\addplot[measst] table {\MSm};
\addplot[fitst] table {\MSf};
\addplot[searsst] table {\sears};
\legend{Measured,Fitted,Sears}
\end{axis}

% (b) moment
\begin{axis}[panelstyle, ymode=log, log identify minor tick positions=true,
  ymin=1e-4, ymax=1000, ytick={1e-4,1e-3,1e-2,1e-1,1,10,100,1000},
  yticklabels={10\textsuperscript{-4},10\textsuperscript{-3},10\textsuperscript{-2},10\textsuperscript{-1},10\textsuperscript{0},10\textsuperscript{1},10\textsuperscript{2},10\textsuperscript{3}},
  at={(425.8pt,-669.8pt)}, anchor=south west, width=228pt, height=162.2pt,
  ylabel={\ylab{M}{con}},
  ylabel style={at={(axis description cs:-0.168,0.5)}},
  xlabel style={at={(axis description cs:0.482,-0.148)}},
  legend style={at={(0.479,0.109)}}]
\addplot[measst] table {\MCm};
\addplot[fitst] table {\MCf};
\addplot[searsst] table {\sears};
\legend{Measured,Fitted,Sears}
\end{axis}

\node[font=\timesf\fontsize{15.5}{18}\selectfont] at (144pt,-741.6pt) {(\textbf{a}) Service stage};
\node[font=\timesf\fontsize{15.5}{18}\selectfont] at (512.6pt,-741.6pt) {(\textbf{b}) Construction stage};
\end{tikzpicture}
\end{document}
